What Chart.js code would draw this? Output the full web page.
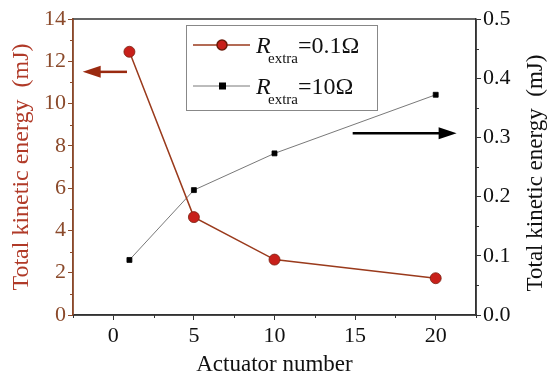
<!DOCTYPE html>
<html>
<head>
<meta charset="utf-8">
<script src="https://cdn.jsdelivr.net/npm/chart.js@4.4.0/dist/chart.umd.min.js"></script>
<style>
  html, body { margin: 0; padding: 0; background: #fff; }
  #wrap { width: 550px; height: 379px; }
</style>
</head>
<body>
<div id="wrap"><canvas id="c" width="550" height="379"></canvas></div>
<script>
// data
var actuators = [1, 5, 10, 20];
var energyLow = [12.45, 4.63, 2.62, 1.74];       // R_extra = 0.1 Ohm, left axis (mJ)
var energyHigh = [0.093, 0.211, 0.273, 0.372];   // R_extra = 10 Ohm, right axis (mJ)
var xTicks = [0, 5, 10, 15, 20];

var serif = "'Liberation Serif', 'Times New Roman', serif";
var redLine = '#9a3a1c';
var redDot = '#c8201a';
var brownAxis = '#8b4a2b';

// arrows given in data units (x, y on their own axis)
var arrows = [
  {axis: 'yL', x0: 0.85, x1: -1.9, y: 11.5, color: '#9a2a10'},
  {axis: 'yR', x0: 14.85, x1: 21.3, y: 0.307, color: '#000'}
];

var extras = {
  id: 'extras',
  afterDraw: function(chart) {
    var ctx = chart.ctx, a = chart.chartArea, sx = chart.scales.x;
    var yl = chart.scales.yL, yr = chart.scales.yR;
    ctx.save();
    // frame
    ctx.lineWidth = 1.5;
    ctx.strokeStyle = '#333';
    ctx.beginPath();
    ctx.moveTo(a.left, a.top); ctx.lineTo(a.right, a.top);
    ctx.moveTo(a.left, a.bottom); ctx.lineTo(a.right, a.bottom);
    ctx.moveTo(a.right, a.top); ctx.lineTo(a.right, a.bottom);
    ctx.stroke();
    ctx.strokeStyle = brownAxis;
    ctx.beginPath();
    ctx.moveTo(a.left, a.top); ctx.lineTo(a.left, a.bottom + 1);
    ctx.stroke();
    // minor ticks
    ctx.lineWidth = 1;
    ctx.strokeStyle = brownAxis;
    ctx.beginPath();
    for (var v = 1; v < 14; v += 2) {
      var p = Math.round(yl.getPixelForValue(v)) + 0.5;
      ctx.moveTo(a.left - 3, p); ctx.lineTo(a.left, p);
    }
    ctx.stroke();
    ctx.strokeStyle = '#333';
    ctx.beginPath();
    for (var w = 0.05; w < 0.5; w += 0.1) {
      var q = Math.round(yr.getPixelForValue(w)) + 0.5;
      ctx.moveTo(a.right, q); ctx.lineTo(a.right + 3, q);
    }
    for (var u = -2.5; u < 22.6; u += 5) {
      var r = Math.round(sx.getPixelForValue(u)) + 0.5;
      ctx.moveTo(r, a.bottom); ctx.lineTo(r, a.bottom + 3);
    }
    ctx.stroke();
    // arrows
    arrows.forEach(function(ar) {
      var ys = chart.scales[ar.axis];
      var px0 = sx.getPixelForValue(ar.x0), px1 = sx.getPixelForValue(ar.x1);
      var py = ys.getPixelForValue(ar.y);
      var dir = px1 > px0 ? 1 : -1;
      ctx.strokeStyle = ar.color; ctx.fillStyle = ar.color;
      ctx.lineWidth = 2.5;
      ctx.beginPath();
      ctx.moveTo(px0, py); ctx.lineTo(px1 - dir * 14, py);
      ctx.stroke();
      ctx.beginPath();
      ctx.moveTo(px1, py);
      ctx.lineTo(px1 - dir * 18, py - 6);
      ctx.lineTo(px1 - dir * 18, py + 6);
      ctx.closePath();
      ctx.fill();
    });
    // right axis title, reading bottom to top
    ctx.fillStyle = '#111';
    ctx.font = '23px ' + serif;
    ctx.textAlign = 'center';
    ctx.textBaseline = 'middle';
    ctx.translate(a.right + 60, (a.top + a.bottom) / 2 + 6);
    ctx.rotate(-Math.PI / 2);
    ctx.fillText('Total kinetic energy  (mJ)', 0, 0);
    ctx.restore();

    // legend box
    ctx.save();
    var lx = a.left + 113, ly = a.top + 6, lw = 191, lh = 85;
    ctx.fillStyle = '#fff';
    ctx.fillRect(lx, ly, lw, lh);
    ctx.strokeStyle = '#888';
    ctx.lineWidth = 1;
    ctx.strokeRect(lx + 0.5, ly + 0.5, lw, lh);
    var rows = [
      {y: ly + 20, col: redLine, lwid: 1.5, mark: 'dot', val: '=0.1\u03a9'},
      {y: ly + 61, col: '#555', lwid: 0.8, mark: 'sq', val: '=10\u03a9'}
    ];
    rows.forEach(function(rw) {
      ctx.strokeStyle = rw.col; ctx.lineWidth = rw.lwid;
      ctx.beginPath();
      ctx.moveTo(lx + 7, rw.y); ctx.lineTo(lx + 64, rw.y);
      ctx.stroke();
      if (rw.mark === 'dot') {
        ctx.fillStyle = redDot; ctx.strokeStyle = '#6a1a08';
        ctx.beginPath(); ctx.arc(lx + 36, rw.y, 5, 0, Math.PI * 2);
        ctx.fill(); ctx.stroke();
      } else {
        ctx.fillStyle = '#000';
        ctx.fillRect(lx + 33, rw.y - 3.5, 7, 7);
      }
      ctx.fillStyle = '#111';
      ctx.textBaseline = 'alphabetic';
      ctx.textAlign = 'left';
      ctx.font = 'italic 24px ' + serif;
      ctx.fillText('R', lx + 70, rw.y + 8);
      ctx.font = '15px ' + serif;
      ctx.fillText('extra', lx + 82, rw.y + 18);
      ctx.font = '24px ' + serif;
      ctx.fillText(rw.val, lx + 112, rw.y + 8);
    });
    ctx.restore();
  }
};

new Chart(document.getElementById('c'), {
  type: 'scatter',
  data: {
    datasets: [
      {
        label: 'R_extra=0.1',
        data: actuators.map(function(x, i) { return {x: x, y: energyLow[i]}; }),
        yAxisID: 'yL',
        showLine: true,
        borderColor: redLine,
        borderWidth: 1.5,
        backgroundColor: redDot,
        pointBorderColor: '#7a2010',
        pointBorderWidth: 0.8,
        pointRadius: 5.5,
        pointStyle: 'circle'
      },
      {
        label: 'R_extra=10',
        data: actuators.map(function(x, i) { return {x: x, y: energyHigh[i]}; }),
        yAxisID: 'yR',
        showLine: true,
        borderColor: '#555',
        borderWidth: 0.8,
        backgroundColor: '#000',
        pointBorderColor: '#000',
        pointRadius: 3.5,
        pointStyle: 'rect'
      }
    ]
  },
  options: {
    responsive: false,
    animation: false,
    layout: { padding: { top: 19, right: 0, left: 0, bottom: 0 } },
    plugins: { legend: { display: false }, tooltip: { enabled: false } },
    scales: {
      x: {
        type: 'linear',
        min: -2.5, max: 22.5,
        afterBuildTicks: function(s) { s.ticks = xTicks.map(function(v) { return {value: v}; }); },
        afterFit: function(s) { s.height = 64; },
        grid: { drawOnChartArea: false, tickLength: 5, color: '#333', lineWidth: 1 },
        border: { color: '#333', width: 1.5 },
        ticks: { color: '#111', font: { family: serif, size: 22 }, padding: 3, maxRotation: 0 },
        title: { display: true, text: 'Actuator number', color: '#111', font: { family: serif, size: 23 }, padding: { top: 0, bottom: 0 } }
      },
      yL: {
        position: 'left',
        min: 0, max: 14,
        ticks: { stepSize: 2, color: brownAxis, font: { family: serif, size: 22 }, padding: 2 },
        afterFit: function(s) { s.width = 73; },
        grid: { drawOnChartArea: false, tickLength: 5, color: brownAxis },
        border: { color: brownAxis, width: 1.5 },
        title: { display: true, text: 'Total kinetic energy  (mJ)', color: '#b03a28', font: { family: serif, size: 24 }, padding: { top: 7, bottom: 0 } }
      },
      yR: {
        position: 'right',
        min: 0, max: 0.5,
        ticks: { stepSize: 0.1, color: '#111', font: { family: serif, size: 22 }, padding: 2,
          callback: function(v) { return v.toFixed(1); } },
        afterFit: function(s) { s.width = 74; },
        grid: { drawOnChartArea: false, tickLength: 5, color: '#333' },
        border: { color: '#333', width: 1.5 }
      }
    }
  },
  plugins: [extras]
});
</script>
</body>
</html>
